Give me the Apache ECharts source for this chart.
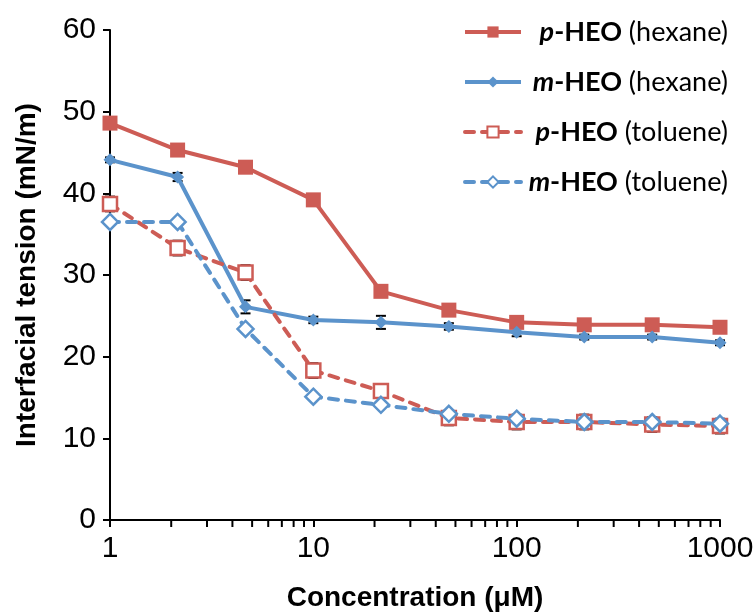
<!DOCTYPE html>
<html>
<head>
<meta charset="utf-8">
<script src="https://cdn.jsdelivr.net/npm/echarts@6/dist/echarts.min.js"></script>
<style>
  html, body { margin: 0; padding: 0; background: #fff; }
  #chart { width: 755px; height: 612px; }
</style>
</head>
<body>
<div id="chart"></div>
<script>
// concentrations (uM), three points per decade
var conc = [1, 2.15, 4.64, 10, 21.5, 46.4, 100, 215, 464, 1000];

var pHexane = [48.6, 45.3, 43.2, 39.2, 28.0, 25.7, 24.2, 23.9, 23.9, 23.6];
var mHexane = [44.1, 42.0, 26.1, 24.5, 24.2, 23.7, 23.0, 22.4, 22.4, 21.7];
var pToluene = [38.7, 33.3, 30.3, 18.3, 15.8, 12.5, 12.0, 12.0, 11.7, 11.5];
var mToluene = [36.5, 36.5, 23.4, 15.1, 14.1, 13.0, 12.4, 12.0, 12.0, 11.8];

// error bars
var pHexaneErr = [0.4, 0.4, 0.4, 0.4, 0.4, 0.4, 0.4, 0.4, 0.4, 0.4];
var mHexaneErr = [0.3, 0.5, 0.8, 0.4, 0.8, 0.4, 0.5, 0.3, 0.3, 0.3];
var pTolueneErr = [0.9, 0.9, 0.9, 0.9, 0.4, 0.9, 0.9, 0.9, 0.9, 0.9];
var mTolueneErr = [0.3, 0.3, 0.3, 0.3, 0.3, 0.3, 0.3, 0.3, 0.3, 0.3];

var minorTicks = [2, 3, 4, 5, 6, 7, 8, 9, 20, 30, 40, 50, 60, 70, 80, 90,
  200, 300, 400, 500, 600, 700, 800, 900];

var RED = "#CD5C55";
var BLUE = "#5B93CB";
var AXFONT = "'Liberation Sans', Arial, sans-serif";

function pairs(vals) {
  return conc.map(function (c, i) { return [c, vals[i]]; });
}
function errData(vals, errs) {
  return conc.map(function (c, i) { return [c, vals[i] - errs[i], vals[i] + errs[i]]; });
}
function errSeries(vals, errs) {
  return {
    type: "custom",
    silent: true,
    z: 1,
    data: errData(vals, errs),
    renderItem: function (params, api) {
      var lo = api.coord([api.value(0), api.value(1)]);
      var hi = api.coord([api.value(0), api.value(2)]);
      var w = 5;
      var st = { stroke: "#000", lineWidth: 2 };
      return {
        type: "group",
        children: [
          { type: "line", shape: { x1: lo[0], y1: lo[1], x2: hi[0], y2: hi[1] }, style: st },
          { type: "line", shape: { x1: lo[0] - w, y1: lo[1], x2: lo[0] + w, y2: lo[1] }, style: st },
          { type: "line", shape: { x1: hi[0] - w, y1: hi[1], x2: hi[0] + w, y2: hi[1] }, style: st }
        ]
      };
    }
  };
}

var legendRich = {
  i: { fontFamily: "Lato", fontSize: 27, fontWeight: "bold", fontStyle: "italic", color: "#000", align: "right" },
  b: { fontFamily: "Lato", fontSize: 27, fontWeight: "bold", color: "#000", align: "right" },
  r: { fontFamily: "Lato", fontSize: 27, color: "#000", align: "right" }
};

var myChart = echarts.init(document.getElementById("chart"));
var option = {
  animation: false,
  backgroundColor: "#fff",
  grid: { left: 110, right: 35, top: 30, bottom: 92, outerBoundsMode: "none", containLabel: false },
  legend: {
    orient: "vertical",
    left: 458,
    top: 11,
    itemWidth: 56,
    itemHeight: 14,
    itemGap: 18,
    lineStyle: { width: 4 },
    data: ["p-HEO (hexane)", "m-HEO (hexane)", "p-HEO (toluene)", "m-HEO (toluene)"],
    formatter: function (name) {
      var k = name.indexOf("-");
      var s = name.indexOf(" ");
      return "{i|" + name.slice(0, k) + "}{b|" + name.slice(k, s) + "}{r|" + name.slice(s) + "}";
    },
    textStyle: { width: 202, lineHeight: 32, rich: legendRich }
  },
  xAxis: {
    type: "log",
    logBase: 10,
    min: 1,
    max: 1000,
    name: "Concentration (\u03bcM)",
    nameLocation: "middle",
    nameGap: 64,
    nameTextStyle: { fontFamily: AXFONT, fontSize: 28, fontWeight: "bold", color: "#000" },
    axisLine: { lineStyle: { color: "#000", width: 2 } },
    axisTick: { inside: false, length: 7, lineStyle: { color: "#000", width: 2 } },
    axisLabel: {
      fontFamily: AXFONT, fontSize: 30, color: "#000", margin: 14,
      formatter: function (v) { return String(Math.round(v)); }
    },
    splitLine: { show: false }
  },
  yAxis: {
    type: "value",
    min: 0,
    max: 60,
    interval: 10,
    name: "Interfacial tension (mN/m)",
    nameLocation: "middle",
    nameGap: 69,
    nameTextStyle: { fontFamily: AXFONT, fontSize: 28, fontWeight: "bold", color: "#000" },
    axisLine: { show: true, lineStyle: { color: "#000", width: 2 } },
    axisTick: { show: true, length: 7, lineStyle: { color: "#000", width: 2 } },
    axisLabel: { fontFamily: AXFONT, fontSize: 30, color: "#000", margin: 14 },
    splitLine: { show: false }
  },
  series: [
    errSeries(pHexane, pHexaneErr),
    errSeries(mHexane, mHexaneErr),
    errSeries(pToluene, pTolueneErr),
    errSeries(mToluene, mTolueneErr),
    {
      type: "custom",
      silent: true,
      data: minorTicks.map(function (v) { return [v, 0]; }),
      renderItem: function (params, api) {
        var p = api.coord([api.value(0), 0]);
        return {
          type: "line",
          shape: { x1: p[0], y1: p[1], x2: p[0], y2: p[1] + 7 },
          style: { stroke: "#000", lineWidth: 2 }
        };
      }
    },
    {
      name: "p-HEO (hexane)",
      type: "line",
      z: 3,
      data: pairs(pHexane),
      symbol: "rect",
      symbolSize: 15,
      lineStyle: { color: RED, width: 4 },
      itemStyle: { color: RED }
    },
    {
      name: "m-HEO (hexane)",
      type: "line",
      z: 3,
      data: pairs(mHexane),
      symbol: "diamond",
      symbolSize: 13,
      lineStyle: { color: BLUE, width: 4 },
      itemStyle: { color: BLUE }
    },
    {
      name: "p-HEO (toluene)",
      type: "line",
      z: 3,
      data: pairs(pToluene),
      symbol: "rect",
      symbolSize: 14,
      lineStyle: { color: RED, width: 4, type: [9, 8], cap: "round" },
      itemStyle: { color: "#fff", borderColor: RED, borderWidth: 2.5 }
    },
    {
      name: "m-HEO (toluene)",
      type: "line",
      z: 3,
      data: pairs(mToluene),
      symbol: "diamond",
      symbolSize: 16,
      lineStyle: { color: BLUE, width: 4, type: [9, 8], cap: "round" },
      itemStyle: { color: "#fff", borderColor: BLUE, borderWidth: 2.5 }
    }
  ]
};
myChart.setOption(option);
</script>
</body>
</html>
